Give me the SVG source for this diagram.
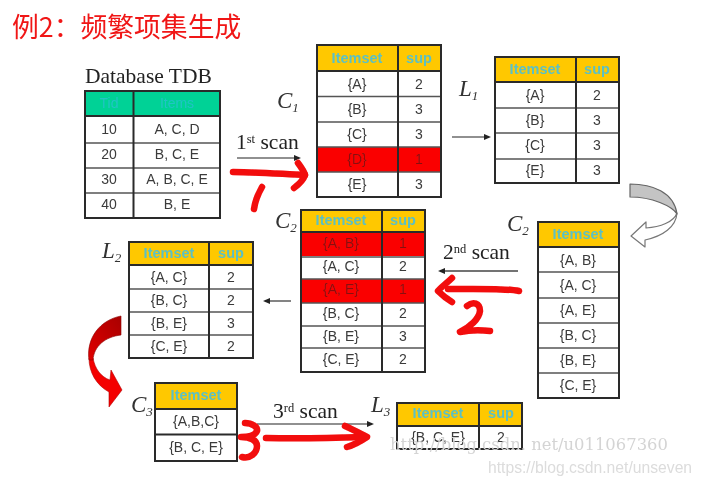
<svg xmlns="http://www.w3.org/2000/svg" width="702" height="486" viewBox="0 0 702 486">
<style>
.cell{fill:#fff;stroke:none}
.hd{fill:#ffc800;stroke:none}
.hdg{fill:#00d296;stroke:none}
.bad{fill:#fa0505;stroke:none}
.ln{stroke:#2b2b2b;stroke-width:2;fill:none}
.rw{stroke:#555;stroke-width:1.6;fill:none}
text{font-family:"Liberation Sans",Arial,sans-serif;text-anchor:middle}
.t{font-size:14px;fill:#3a3a3a}
.r{font-size:14px;fill:#8b1010}
.h{font-size:14.500px;fill:#5cc0c4;font-weight:700}
.hg{font-size:14px;fill:#20c4c4}
.s{font-family:"Liberation Serif",serif;font-size:21.500px;fill:#222;text-anchor:start}
.i{font-family:"Liberation Serif",serif;font-size:23px;font-style:italic;fill:#333;text-anchor:start}
.i2{font-size:13px}
.sup{font-size:12.500px}
.red{fill:none;stroke:#f20a0a;stroke-width:6.500;stroke-linecap:round;stroke-linejoin:round}
.thin{stroke:#222;stroke-width:1.1;fill:none}
.ah{fill:#222}
.wm{fill:#d9d9d9;text-anchor:start}
</style>
<defs>
<filter id="soft" x="-2%" y="-2%" width="104%" height="104%"><feGaussianBlur stdDeviation="0.35"/></filter>
<linearGradient id="rg" x1="1" y1="0" x2="0" y2="1"><stop offset="0" stop-color="#a80000"/><stop offset="1" stop-color="#e00404"/></linearGradient>
</defs>
<rect width="702" height="486" fill="#fff"/>
<g filter="url(#soft)">
<text id="title" x="12" y="37" style="font-family:'Noto Sans CJK SC','Liberation Sans',sans-serif;font-size:26.800px;fill:#f01414;text-anchor:start">例2：频繁项集生成</text>
<text x="85" y="83" class="s">Database TDB</text>

<g id="tdb">
<rect class="hdg" x="85" y="91" width="135" height="25"/>
<rect class="cell" x="85" y="116" width="135" height="102"/>
<path class="rw" d="M85 143H220M85 168H220M85 193H220"/>
<path class="ln" d="M85 91H220V218H85ZM85 116H220M133.500 91V218"/>
<text class="hg" x="109" y="108">Tid</text><text class="hg" x="177" y="108">Items</text>
<text class="t" x="109" y="134">10</text><text class="t" x="177" y="134">A, C, D</text>
<text class="t" x="109" y="159">20</text><text class="t" x="177" y="159">B, C, E</text>
<text class="t" x="109" y="184">30</text><text class="t" x="177" y="184">A, B, C, E</text>
<text class="t" x="109" y="209">40</text><text class="t" x="177" y="209">B, E</text>
</g>

<g id="c1">
<rect class="hd" x="317" y="45" width="124" height="26"/>
<rect class="cell" x="317" y="71" width="124" height="126"/>
<rect class="bad" x="317" y="147" width="124" height="25"/>
<path class="rw" d="M317 96.500H441M317 122H441M317 147H441M317 172H441"/>
<path class="ln" d="M317 45H441V197H317ZM317 71H441M398 45V197"/>
<text class="h" x="357" y="63">Itemset</text><text class="h" x="419" y="63">sup</text>
<text class="t" x="357" y="89">{A}</text><text class="t" x="419" y="89">2</text>
<text class="t" x="357" y="114">{B}</text><text class="t" x="419" y="114">3</text>
<text class="t" x="357" y="139">{C}</text><text class="t" x="419" y="139">3</text>
<text class="r" x="357" y="164">{D}</text><text class="r" x="419" y="164">1</text>
<text class="t" x="357" y="189">{E}</text><text class="t" x="419" y="189">3</text>
</g>

<g id="l1">
<rect class="hd" x="495" y="57" width="124" height="25"/>
<rect class="cell" x="495" y="82" width="124" height="101"/>
<path class="rw" d="M495 108H619M495 133H619M495 159H619"/>
<path class="ln" d="M495 57H619V183H495ZM495 82H619M576 57V183"/>
<text class="h" x="535" y="74">Itemset</text><text class="h" x="597" y="74">sup</text>
<text class="t" x="535" y="100">{A}</text><text class="t" x="597" y="100">2</text>
<text class="t" x="535" y="125">{B}</text><text class="t" x="597" y="125">3</text>
<text class="t" x="535" y="150">{C}</text><text class="t" x="597" y="150">3</text>
<text class="t" x="535" y="175">{E}</text><text class="t" x="597" y="175">3</text>
</g>

<g id="c2-candidates">
<rect class="hd" x="538" y="222" width="81" height="25"/>
<rect class="cell" x="538" y="247" width="81" height="151"/>
<path class="rw" d="M538 272H619M538 298H619M538 323H619M538 348H619M538 373H619"/>
<path class="ln" d="M538 222H619V398H538ZM538 247H619"/>
<text class="h" x="578" y="239">Itemset</text>
<text class="t" x="578" y="265">{A, B}</text>
<text class="t" x="578" y="290">{A, C}</text>
<text class="t" x="578" y="315">{A, E}</text>
<text class="t" x="578" y="340">{B, C}</text>
<text class="t" x="578" y="365">{B, E}</text>
<text class="t" x="578" y="390">{C, E}</text>
</g>

<g id="c2-counted">
<rect class="hd" x="301" y="210" width="124" height="22"/>
<rect class="cell" x="301" y="232" width="124" height="140"/>
<rect class="bad" x="301" y="233" width="124" height="23"/>
<rect class="bad" x="301" y="279" width="124" height="24"/>
<path class="rw" d="M301 257H425M301 279H425M301 303H425M301 326H425M301 348H425"/>
<path class="ln" d="M301 210H425V372H301ZM301 232H425M382 210V372"/>
<text class="h" x="341" y="225">Itemset</text><text class="h" x="403" y="225">sup</text>
<text class="r" x="341" y="248">{A, B}</text><text class="r" x="403" y="248">1</text>
<text class="t" x="341" y="271">{A, C}</text><text class="t" x="403" y="271">2</text>
<text class="r" x="341" y="294">{A, E}</text><text class="r" x="403" y="294">1</text>
<text class="t" x="341" y="318">{B, C}</text><text class="t" x="403" y="318">2</text>
<text class="t" x="341" y="341">{B, E}</text><text class="t" x="403" y="341">3</text>
<text class="t" x="341" y="364">{C, E}</text><text class="t" x="403" y="364">2</text>
</g>

<g id="l2">
<rect class="hd" x="129" y="242" width="124" height="23"/>
<rect class="cell" x="129" y="265" width="124" height="93"/>
<path class="rw" d="M129 289H253M129 312H253M129 335H253"/>
<path class="ln" d="M129 242H253V358H129ZM129 265H253M209 242V358"/>
<text class="h" x="169" y="258">Itemset</text><text class="h" x="231" y="258">sup</text>
<text class="t" x="169" y="282">{A, C}</text><text class="t" x="231" y="282">2</text>
<text class="t" x="169" y="305">{B, C}</text><text class="t" x="231" y="305">2</text>
<text class="t" x="169" y="328">{B, E}</text><text class="t" x="231" y="328">3</text>
<text class="t" x="169" y="351">{C, E}</text><text class="t" x="231" y="351">2</text>
</g>

<g id="c3">
<rect class="hd" x="155" y="383" width="82" height="26"/>
<rect class="cell" x="155" y="409" width="82" height="52"/>
<path class="ln" d="M155 383H237V461H155ZM155 409H237M155 434.500H237"/>
<text class="h" x="196" y="400">Itemset</text>
<text class="t" x="196" y="426">{A,B,C}</text>
<text class="t" x="196" y="452">{B, C, E}</text>
</g>

<g id="l3">
<rect class="hd" x="397" y="403" width="125" height="23"/>
<rect class="cell" x="397" y="426" width="125" height="23"/>
<path class="ln" d="M397 403H522V449H397ZM397 426H522M479 403V449"/>
<text class="h" x="438" y="418">Itemset</text><text class="h" x="501" y="418">sup</text>
<text class="t" x="438" y="442">{B, C, E}</text><text class="t" x="501" y="442">2</text>
</g>

<g id="set-labels">
<text class="i" x="277" y="108">C<tspan class="i2" dy="4">1</tspan></text>
<text class="i" x="459" y="96">L<tspan class="i2" dy="4">1</tspan></text>
<text class="i" x="507" y="231">C<tspan class="i2" dy="4">2</tspan></text>
<text class="i" x="275" y="228">C<tspan class="i2" dy="4">2</tspan></text>
<text class="i" x="102" y="258">L<tspan class="i2" dy="4">2</tspan></text>
<text class="i" x="131" y="412">C<tspan class="i2" dy="4">3</tspan></text>
<text class="i" x="371" y="412">L<tspan class="i2" dy="4">3</tspan></text>
</g>

<g id="connectors">
<path class="thin" d="M237 158H295"/><path class="ah" d="M301 158l-7-3v6z"/>
<path class="thin" d="M452 137H486"/><path class="ah" d="M491 137l-7-3v6z"/>
<path class="thin" d="M518 271H444" style="stroke:#444;stroke-width:1.400"/><path class="ah" d="M438 271l7-3v6z"/>
<path class="thin" d="M291 301H269"/><path class="ah" d="M263 301l7-3v6z"/>
<path class="thin" d="M257 424H368"/><path class="ah" d="M374 424l-7-3v6z"/>

<path d="M677 213C676 227 663 236 645 240V247L631 236L646 222V228C660 227 674 222 677 213Z" fill="#fff" stroke="#777" stroke-width="1.200" stroke-linejoin="round"/>
<path d="M630 184C652 184 674 192 677 214C672 206 652 197 630 197Z" fill="#c4c4c4" stroke="#666" stroke-width="1.200" stroke-linejoin="round"/>

<path d="M89 358C89 372 96 385 109 392L109 407L122 390L111 370L110 380C101 377 95 369 93 358Z" fill="#f40606" stroke="#b00000" stroke-width=".6"/>
<path d="M121 316V335C105 337 94 346 93 360H89C86 338 100 320 121 316Z" fill="url(#rg)" stroke="#8a0000" stroke-width=".6"/>

<path class="red" d="M233 172C255 172 282 174 305 175"/>
<path class="red" d="M298 163C301 167 304 171 305 175C303 181 298 185 294 188"/>
<path class="red" d="M262 187C258 194 255 202 254 209"/>
<path class="red" d="M519 291C505 288 470 289 448 289"/>
<path class="red" d="M452 278C447 283 441 287 438 291C442 295 447 299 452 302"/>
<path class="red" d="M467 306C473 301 480 303 480 311C479 319 470 327 460 332C470 330 480 330 490 331"/>
<path class="red" d="M245 423C252 423 258 427 257 431C255 436 247 437 241 437C250 437 257 440 257 446C257 453 250 459 242 457"/>
<path class="red" d="M266 438C300 439 335 438 365 437"/>
<path class="red" d="M345 426C354 430 361 434 367 437C361 441 354 445 347 447"/>
</g>

<g id="scan-labels">
<text class="s" x="236" y="149">1<tspan class="sup" dy="-6">st</tspan><tspan dy="6"> scan</tspan></text>
<text class="s" x="443" y="259">2<tspan class="sup" dy="-6">nd</tspan><tspan dy="6"> scan</tspan></text>
<text class="s" x="273" y="418">3<tspan class="sup" dy="-6">rd</tspan><tspan dy="6"> scan</tspan></text>
</g>

<g id="watermarks">
<text class="wm" x="390" y="450" style="font-family:'DejaVu Serif',serif;font-size:16.400px;fill:#d4d4d4">http://blog.csdn. net/u011067360</text>
<text class="wm" x="488" y="473" style="font-size:15.700px;fill:#dcdcdc">https://blog.csdn.net/unseven</text>
</g>
</g>
</svg>
